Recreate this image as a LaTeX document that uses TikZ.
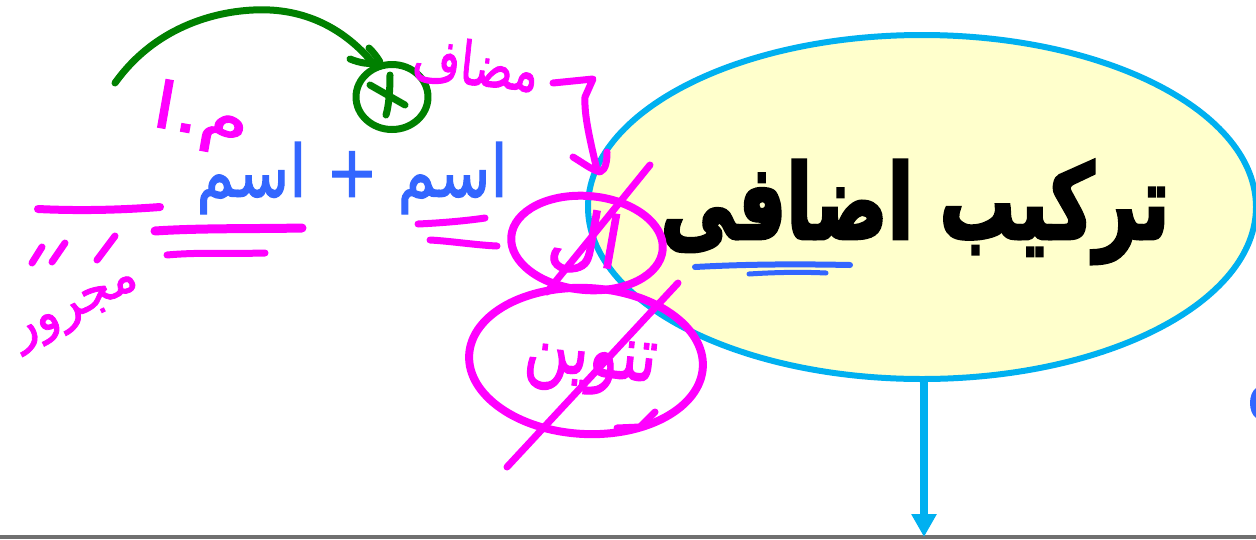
\documentclass[tikz,border=0pt]{standalone}
\usepackage{fontspec}
\usetikzlibrary{shapes.geometric,arrows.meta}
\TeXXeTstate=1
\newfontfamily\arabicfont[Script=Arabic,FakeBold=1.6]{DejaVu Sans}
\newfontfamily\arabicbold[Script=Arabic,FakeBold=3.5]{DejaVu Sans Bold}
\definecolor{inkmag}{HTML}{FF00FF}
\definecolor{inkblue}{HTML}{3366FF}
\definecolor{inkgreen}{HTML}{008000}
\definecolor{cyanline}{HTML}{00B0F0}
\definecolor{paleyellow}{HTML}{FFFFCC}
\tikzset{
  pen/.style={line cap=round,line join=round},
  magpen/.style={pen,draw=inkmag,line width=#1},
  magpen/.default=5pt,
  bluepen/.style={pen,draw=inkblue,line width=#1},
  bluepen/.default=6pt,
  greenpen/.style={pen,draw=inkgreen,line width=7pt},
  inktext/.style={inner sep=0pt,outer sep=0pt},
  bubble/.style={ellipse,draw=cyanline,fill=paleyellow,line width=6pt,minimum width=668pt,minimum height=344pt,inner sep=0pt}
}
\newcommand{\arsize}[1]{\fontsize{#1}{#1}\selectfont\arabicfont}
\begin{document}
\begin{tikzpicture}[x=1pt,y=-1pt]
\useasboundingbox (0,0) rectangle (1256,539);
\fill[white] (0,0) rectangle (1256,539);
% frame pieces
\fill[black!56] (0,534.5) rectangle (1256,539);
\fill[inkblue] (1256,388) .. controls (1248,394) and (1248,412) .. (1256,418) -- cycle;
% main bubble
\node[bubble] (main) at (922,207) {};
\node[inktext,xscale=.82,yscale=1.12] (title) at (915,212) {\fontsize{92}{92}\selectfont\arabicbold\beginR ترکیب اضافی\endR};
\coordinate (tipend) at (924,537);
\draw[draw=cyanline,line width=8pt,-{Triangle[length=23pt,width=24pt]}] (main.south -| tipend) -- (tipend);
% underline of title
\draw[bluepen=6pt] (695,267) .. controls (750,264) and (800,264) .. (850,265);
\draw[bluepen=5pt] (749,274) .. controls (780,272) and (805,272) .. (826,273);
% green arrow and crossed circle
\coordinate (gs) at (115,83);
\coordinate (ge) at (372,62);
\draw[greenpen] (gs) .. controls (160,20) and (230,8) .. (270,10) .. controls (310,12) and (345,30) .. (ge);
\draw[greenpen] (350,59) .. controls (360,63) and (370,65) .. (380,62) .. controls (377,57) and (374,53) .. (369,48);
\draw[greenpen] (392,97) ellipse [x radius=36,y radius=32.5];
\draw[greenpen] (370,85) -- (405,105);
\draw[greenpen] (390,75) .. controls (390,90) and (389,105) .. (386,115);
% blue formula
\node[inktext,text=inkblue,xscale=1.03,yscale=1.2] (formula) at (352,178) {\arsize{60}\beginR اسم + اسم\endR};
% magenta labels
\node[inktext,text=inkmag,rotate=-10,xscale=1.25] (ma) at (201,118) {\arsize{64}\beginR م.ا\endR};
\node[inktext,text=inkmag,rotate=-6,yscale=1.3] (mudaf) at (476,64) {\arsize{46}\beginR مضاف\endR};
\node[inktext,text=inkmag,rotate=26] (majrur) at (78,312) {\arsize{50}\beginR مجرور\endR};
\node[inktext,text=inkmag,rotate=-10] (al) at (585,242) {\arsize{72}\beginR ال\endR};
\node[inktext,text=inkmag,rotate=-6,yscale=1.25] (tanwin) at (590,366) {\arsize{62}\beginR تنوین\endR};
% double rules
\draw[magpen=8pt] (38,209) .. controls (80,211) and (120,210) .. (160,207);
\draw[magpen=9pt] (155,231) .. controls (200,228) and (250,229) .. (302,228);
\draw[magpen=7pt] (167,255) .. controls (200,252) and (230,254) .. (265,253);
\draw[magpen=7pt] (42,247) -- (32,263);
\draw[magpen=7pt] (65,243) -- (52,262);
\draw[magpen=7pt] (115,236) -- (97,260);
\draw[magpen=7pt] (418,224) .. controls (440,223) and (465,221) .. (485,218);
\draw[magpen=7pt] (430,240) .. controls (450,241) and (475,245) .. (497,246);
% bracket arrow
\coordinate (bs) at (553,83);
\draw[magpen=7pt] (bs) -- (593,79) -- (585,97) .. controls (584,115) and (590,140) .. (597,170);
\draw[magpen=7pt] (573,157) .. controls (583,163) and (592,170) .. (600,172) .. controls (606,170) and (607,160) .. (607,152);
% ring around "al"
\draw[magpen=8pt] (587,243) ellipse [x radius=76,y radius=47,rotate=-5];
\draw[magpen=7pt] (650,165) -- (547,292);
% ring around "tanwin"
\draw[magpen=8pt] (586,361) ellipse [x radius=117,y radius=73,rotate=-3];
\draw[magpen=7pt] (678,283) -- (507,467);
\draw[magpen=7pt] (617,428) -- (640,427) -- (655,412);
\end{tikzpicture}
\end{document}
